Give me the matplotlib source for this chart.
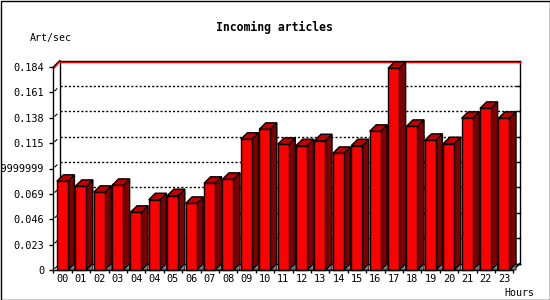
import matplotlib
matplotlib.use("Agg")
import matplotlib.pyplot as plt
from matplotlib.patches import Polygon, Rectangle

plt.rcParams['lines.scale_dashes'] = False

hours = ["00", "01", "02", "03", "04", "04", "05", "06", "07", "08", "09", "10",
         "11", "12", "13", "14", "15", "16", "17", "18", "19", "20", "21", "22", "23"]
art_per_sec = [0.0804, 0.0758, 0.0704, 0.0767, 0.0523, 0.0637, 0.0674, 0.0604,
               0.0786, 0.0822, 0.1185, 0.1275, 0.1139, 0.1127, 0.1172, 0.1057,
               0.1127, 0.1257, 0.1828, 0.1302, 0.1175, 0.1145, 0.1375, 0.1465, 0.1375]
y_ticks = [0, 0.023, 0.046, 0.069, 0.092, 0.115, 0.138, 0.161, 0.184]
y_tick_labels = ["0", "0.023", "0.046", "0.069", "0.09199999999999999",
                 "0.115", "0.138", "0.161", "0.184"]

FONT = "DejaVu Sans Mono"
PX = 0.72  # one pixel in points at dpi 100

fig = plt.figure(figsize=(5.5, 3.0), dpi=100)
fig.patch.set_facecolor("white")
ax = fig.add_axes([53.3 / 550, 30 / 300, 460 / 550, 203 / 300])
n = len(hours)
ymax = y_ticks[-1]
ax.set_xlim(0, n)
ax.set_ylim(0, ymax)

# 3D offsets in data units
dx = 6.6 / (460 / n)
dy = 6.5 * ymax / 203

for s in ["top", "right"]:
    ax.spines[s].set_visible(False)
for s in ["left", "bottom"]:
    ax.spines[s].set_linewidth(1.0)
    ax.spines[s].set_zorder(6)

# back plane
ax.plot([dx, dx], [dy, ymax + dy], color="black", lw=1.0, clip_on=False, zorder=1)
ax.plot([n + dx, n + dx], [dy, ymax + dy], color="black", lw=1.0, clip_on=False, zorder=1)
ax.plot([dx, n + dx], [dy, dy], color="black", lw=1.0, clip_on=False, zorder=1)
ax.plot([dx, n + dx], [ymax + dy, ymax + dy], color="black", lw=1.0, clip_on=False, zorder=2)
ax.plot([dx, n + dx], [ymax + dy - 1.2 * ymax / 203] * 2, color="red", lw=1.0,
        clip_on=False, zorder=2)
ax.plot([0, dx], [ymax, ymax + dy], color="black", lw=1.0, clip_on=False, zorder=2)
ax.plot([0.05, dx], [ymax - 1.0 * ymax / 203, ymax + dy - 1.2 * ymax / 203],
        color="red", lw=1.0, clip_on=False, zorder=2)
ax.plot([n, n + dx], [0, dy], color="black", lw=1.0, clip_on=False, zorder=2)

for t in y_ticks[1:-1]:
    ax.plot([dx, n + dx], [t + dy, t + dy], color="black", lw=1.0,
            linestyle=(0, (1.5, 1.5)), clip_on=False, zorder=1)
for t in y_ticks[:-1]:
    ax.plot([n + dx - 0.17, n + dx], [t + dy, t + dy], color="black", lw=1.0,
            clip_on=False, zorder=1)
    ax.plot([0.25 * dx, 0.55 * dx], [t + 0.25 * dy, t + 0.55 * dy], color="black",
            lw=0.8, clip_on=False, zorder=1)

# bars
bw0, bw1 = 0.19, 0.79
for i, v in enumerate(art_per_sec):
    x0, x1 = i + bw0, i + bw1
    shadow = Polygon([(x1, 0), (x1 + dx, dy), (x1 + dx, 0)], closed=True,
                     facecolor="#808080", edgecolor="black", lw=0.6,
                     clip_on=False, zorder=3)
    side = Polygon([(x1, 0), (x1, v), (x1 + dx, v + dy), (x1 + dx, dy)], closed=True,
                   facecolor="#800000", edgecolor="black", lw=1.0,
                   clip_on=False, zorder=4)
    top = Polygon([(x0, v), (x1, v), (x1 + dx, v + dy), (x0 + dx, v + dy)], closed=True,
                  facecolor="#c00000", edgecolor="black", lw=1.0,
                  clip_on=False, zorder=4)
    front = Rectangle((x0, 0), x1 - x0, v, facecolor="#ff0000", edgecolor="black",
                      lw=1.0, clip_on=False, zorder=5)
    for p in (shadow, side, top, front):
        ax.add_patch(p)

# ticks
ax.set_yticks(y_ticks)
ax.set_yticklabels(y_tick_labels, fontfamily=FONT, fontsize=7.4)
ax.tick_params(axis="y", length=3 / PX * 0.72, width=1.0, pad=5 * PX,
               direction="out", colors="black")
ax.set_xticks(range(n + 1))
ax.set_xticklabels([])
ax.tick_params(axis="x", which="major", length=3 * PX, width=1.0, direction="out")
ax.set_xticks([i + 0.5 for i in range(n)], minor=True)
ax.set_xticklabels(hours, minor=True, fontfamily=FONT, fontsize=7.4)
ax.tick_params(axis="x", which="minor", length=0, pad=4.5 * PX)

# texts
fig.text(274 / 550, 1 - 27 / 300, "Incoming articles", ha="center", va="center",
         fontfamily=FONT, fontweight="bold", fontsize=8.3)
fig.text(30 / 550, 1 - 37.5 / 300, "Art/sec", ha="left", va="center",
         fontfamily=FONT, fontsize=7.2)
fig.text(504 / 550, 1 - 292.5 / 300, "Hours", ha="left", va="center",
         fontfamily=FONT, fontsize=7.2)

# frame
fig.patches.append(Rectangle((0.5 / 550, 0.5 / 300), 549 / 550, 299 / 300,
                             transform=fig.transFigure, fill=False,
                             edgecolor="black", lw=1.0, zorder=10))

fig.savefig("out.png", dpi=100, facecolor="white")
